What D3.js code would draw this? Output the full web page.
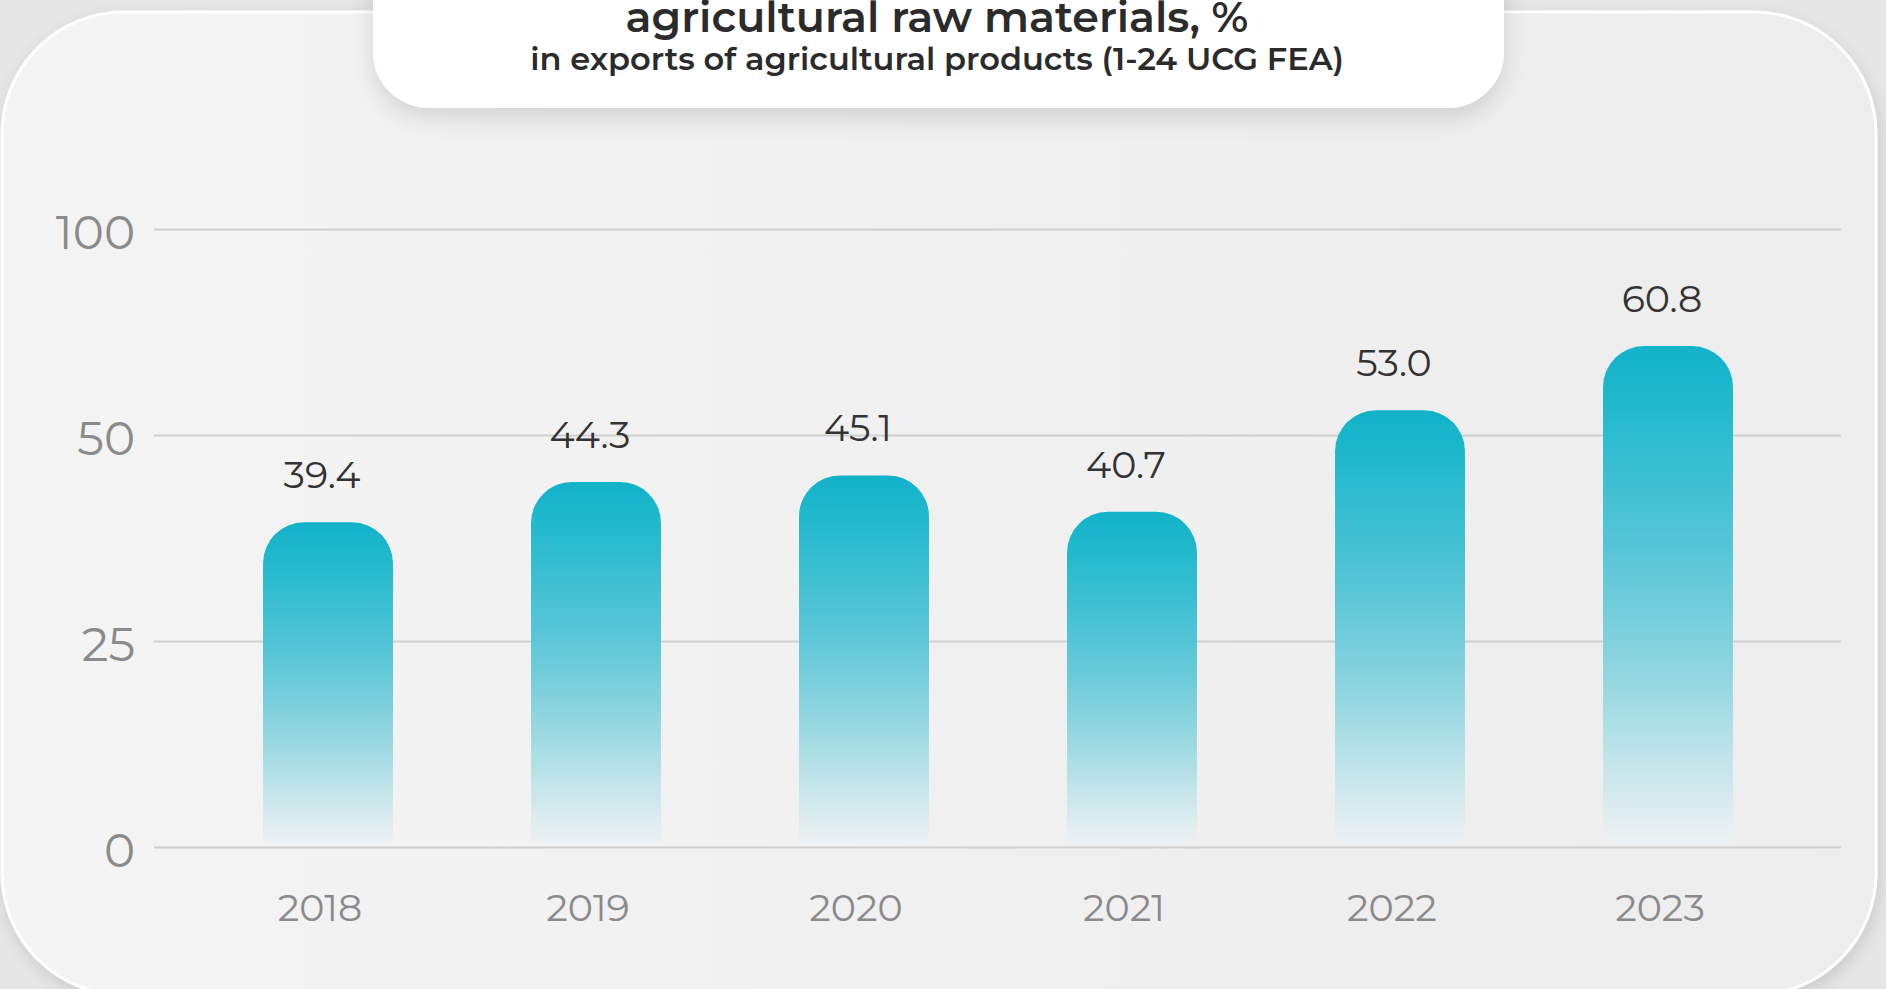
<!DOCTYPE html>
<html>
<head>
<meta charset="utf-8">
<script src="https://cdn.jsdelivr.net/npm/d3@7/dist/d3.min.js"></script>
<style>
  html, body { margin: 0; padding: 0; background: #e6e6e6; overflow: hidden; }
  svg { display: block; }
  text { font-family: "Montserrat", "Inter", "Open Sans", sans-serif; }
</style>
</head>
<body>
<svg id="chart" width="1886" height="989"></svg>
<script>
// ---- data ----
const years = ["2018", "2019", "2020", "2021", "2022", "2023"];
const shares = [39.4, 44.3, 45.1, 40.7, 53.0, 60.8];
const valueLabels = ["39.4", "44.3", "45.1", "40.7", "53.0", "60.8"];
const tickValues = [0, 25, 50, 75];
const tickLabels = ["0", "25", "50", "100"];
const titleLine = "agricultural raw materials, %";
const subtitleLine = "in exports of agricultural products (1-24 UCG FEA)";

// ---- setup ----
const W = 1886, H = 989;
const svg = d3.select("#chart");
const defs = svg.append("defs");

const cardShadow = defs.append("filter").attr("id", "cardShadow")
  .attr("x", "-5%").attr("y", "-5%").attr("width", "110%").attr("height", "115%");
cardShadow.append("feDropShadow").attr("dx", 2).attr("dy", 6).attr("stdDeviation", 8)
  .attr("flood-color", "#000").attr("flood-opacity", 0.12);

const boxShadow = defs.append("filter").attr("id", "boxShadow")
  .attr("x", "-10%").attr("y", "-30%").attr("width", "120%").attr("height", "170%");
boxShadow.append("feDropShadow").attr("dx", 0).attr("dy", 10).attr("stdDeviation", 12)
  .attr("flood-color", "#000").attr("flood-opacity", 0.13);

const cardGrad = defs.append("linearGradient").attr("id", "cardGrad")
  .attr("x1", 0).attr("y1", 0).attr("x2", 1).attr("y2", 0);
cardGrad.append("stop").attr("offset", 0).attr("stop-color", "#f4f4f4");
cardGrad.append("stop").attr("offset", 1).attr("stop-color", "#ededed");

const barGrad = defs.append("linearGradient").attr("id", "barGrad")
  .attr("x1", 0).attr("y1", 0).attr("x2", 0).attr("y2", 1);
[
  [0, "#12b2c9", 1],
  [0.12, "#22b9cd", 1],
  [0.4, "#55c5d6", 1],
  [0.65, "#8fd5df", 1],
  [0.85, "#c6e6eb", 1],
  [1, "#eef1f3", 1]
].forEach(([o, c, op]) => barGrad.append("stop").attr("offset", o).attr("stop-color", c).attr("stop-opacity", op));

// background card
svg.append("rect").attr("x", 0).attr("y", 0).attr("width", W).attr("height", H).attr("fill", "#e6e6e6");
svg.append("rect")
  .attr("x", 2).attr("y", 12).attr("width", 1874).attr("height", 983)
  .attr("rx", 122).attr("ry", 122)
  .attr("fill", "url(#cardGrad)")
  .attr("stroke", "#ffffff").attr("stroke-width", 3)
  .attr("filter", "url(#cardShadow)");

// title box
svg.append("rect")
  .attr("x", 373).attr("y", -70).attr("width", 1131).attr("height", 178)
  .attr("rx", 56).attr("ry", 56)
  .attr("fill", "#ffffff")
  .attr("filter", "url(#boxShadow)");

function fitText(sel, target) {
  const len = sel.node().getComputedTextLength();
  const fs = parseFloat(sel.attr("font-size"));
  if (len > 0) sel.attr("font-size", fs * target / len);
}

const t1 = svg.append("text")
  .attr("x", 937).attr("y", 32)
  .attr("text-anchor", "middle")
  .attr("font-size", 40).attr("font-weight", 600)
  .attr("fill", "#2b2b2b")
  .text(titleLine);
fitText(t1, 623);

const t2 = svg.append("text")
  .attr("x", 937).attr("y", 70)
  .attr("text-anchor", "middle")
  .attr("font-size", 28).attr("font-weight", 600)
  .attr("fill", "#2b2b2b")
  .text(subtitleLine);
fitText(t2, 814);

// ---- scales ----
const x = d3.scaleBand().domain(years).range([194, 1802]).paddingInner(0.515).paddingOuter(0.2575);
const y = d3.scaleLinear().domain([0, 75]).range([847, 229]);

// gridlines + y labels via axis
const gridLeft = 154, gridRight = 1841;
const gy = svg.append("g").attr("transform", `translate(${gridRight},0)`)
  .call(d3.axisLeft(y).tickValues(tickValues).tickSize(gridRight - gridLeft).tickFormat(""));
gy.select(".domain").remove();
gy.selectAll(".tick line").attr("stroke", "#cfcfcf").attr("stroke-width", 2);

const gl = svg.append("g").attr("transform", `translate(${gridLeft},0)`)
  .call(d3.axisLeft(y).tickValues(tickValues).tickSize(0).tickPadding(19)
    .tickFormat((d, i) => tickLabels[i]));
gl.select(".domain").remove();
gl.selectAll(".tick text")
  .attr("font-size", 47).attr("font-weight", 400)
  .attr("fill", "#8a8a8a")
  .attr("dy", "0.42em")
  .style("font-family", '"Montserrat", "Inter", "Open Sans", sans-serif');

// bars
const r = 41;
function barPath(x0, w, top, bottom) {
  const rr = Math.min(r, w / 2, (bottom - top));
  return `M${x0},${bottom} L${x0},${top + rr} A${rr},${rr} 0 0 1 ${x0 + rr},${top} ` +
         `L${x0 + w - rr},${top} A${rr},${rr} 0 0 1 ${x0 + w},${top + rr} L${x0 + w},${bottom} Z`;
}
const data = years.map((yr, i) => ({ yr, v: shares[i], label: valueLabels[i] }));
svg.append("g").selectAll("path").data(data).join("path")
  .attr("d", d => barPath(x(d.yr), x.bandwidth(), y(d.v), y(0) - 4))
  .attr("fill", "url(#barGrad)");

// value labels
svg.append("g").selectAll("text").data(data).join("text")
  .attr("x", d => x(d.yr) + x.bandwidth() / 2 - 6)
  .attr("y", d => y(d.v) - 34)
  .attr("text-anchor", "middle")
  .attr("font-size", 38).attr("font-weight", 400)
  .attr("fill", "#333333")
  .text(d => d.label);

// x labels
const gx = svg.append("g").attr("transform", `translate(0,${y(0)})`)
  .call(d3.axisBottom(x).tickSize(0).tickPadding(0));
gx.select(".domain").remove();
gx.selectAll(".tick text")
  .attr("y", 74).attr("dy", 0)
  .attr("dx", -8)
  .attr("font-size", 38).attr("font-weight", 400)
  .attr("fill", "#8a8a8a")
  .style("font-family", '"Montserrat", "Inter", "Open Sans", sans-serif');
</script>
</body>
</html>
